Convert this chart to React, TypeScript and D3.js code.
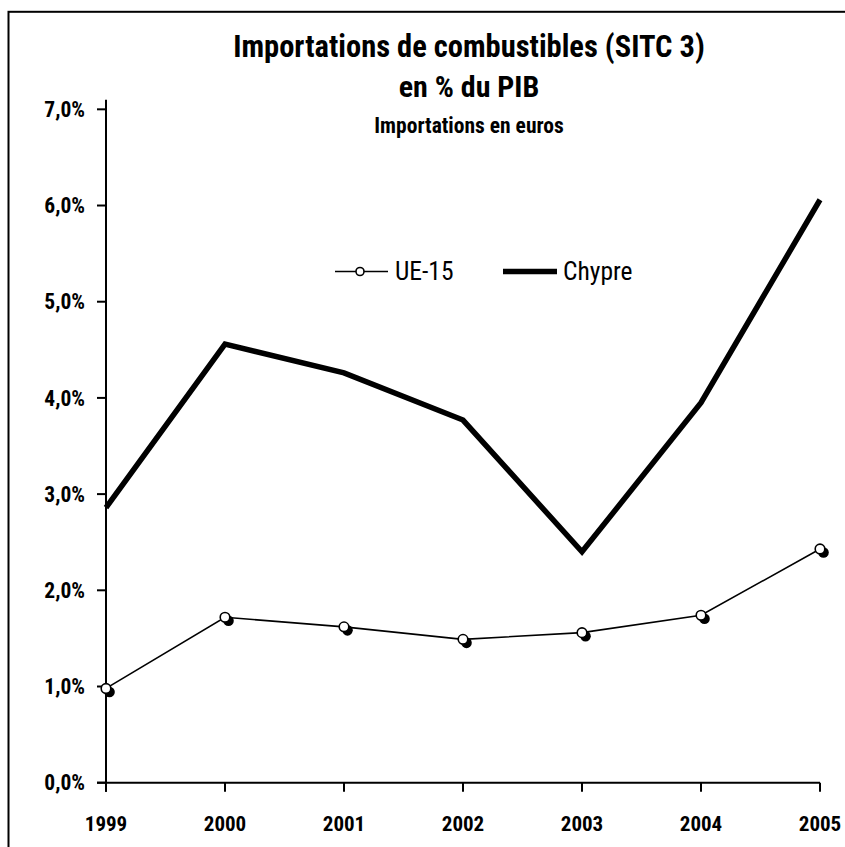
import React from "react";
import * as d3 from "d3";

const years = ["1999", "2000", "2001", "2002", "2003", "2004", "2005"];
const ue15 = [0.98, 1.72, 1.62, 1.49, 1.56, 1.74, 2.43];
const chypre = [2.86, 4.56, 4.26, 3.77, 2.4, 3.95, 6.06];
const yTicks = [0, 1, 2, 3, 4, 5, 6, 7];
const titleLines = ["Importations de combustibles (SITC 3)", "en % du PIB"];
const subtitle = "Importations en euros";
const seriesNames = ["UE-15", "Chypre"];

const W = 845;
const H = 847;
const FONT = "'Liberation Sans Narrow', 'Arial Narrow', 'Roboto Condensed', 'Liberation Sans', Arial, sans-serif";

const fmt = (v: number) => v.toFixed(1).replace(".", ",") + "%";

export default function App() {
  const x = d3.scalePoint<string>().domain(years).range([106, 820]);
  const y = d3.scaleLinear().domain([0, 7.1]).range([782.7, 99.7]);
  const [y0, yTop] = y.range();

  const line = d3
    .line<number>()
    .x((_, i) => x(years[i]) as number)
    .y((d) => y(d));

  const cx = 469;

  return (
    <svg
      width={W}
      height={H}
      style={{ position: "absolute", left: 0, top: 0, background: "#fff" }}
      fontFamily={FONT}
    >
      <rect x={8.5} y={11.8} width={900} height={900} fill="none" stroke="#000" strokeWidth={2} />

      {/* titles */}
      <text x={cx} y={57} textAnchor="middle" fontSize={30.5} fontWeight="bold">
        {titleLines[0]}
      </text>
      <text x={cx} y={97} textAnchor="middle" fontSize={30} fontWeight="bold">
        {titleLines[1]}
      </text>
      <text x={cx} y={133} textAnchor="middle" fontSize={21.5} fontWeight="bold">
        {subtitle}
      </text>

      {/* y axis */}
      <line x1={x(years[0])} x2={x(years[0])} y1={yTop} y2={y0 + 9} stroke="#000" strokeWidth={2} />
      {yTicks.map((t) => (
        <g key={t}>
          <line x1={97} x2={x(years[0])} y1={y(t)} y2={y(t)} stroke="#000" strokeWidth={2} />
          <text x={85} y={y(t)} dy="0.36em" textAnchor="end" fontSize={21.5} fontWeight="bold">
            {fmt(t)}
          </text>
        </g>
      ))}

      {/* x axis */}
      <line x1={97} x2={x(years[years.length - 1])} y1={y0} y2={y0} stroke="#000" strokeWidth={2} />
      {years.map((yr) => (
        <g key={yr}>
          <line x1={x(yr)} x2={x(yr)} y1={y0} y2={y0 + 9} stroke="#000" strokeWidth={2} />
          <text x={x(yr)} y={831} textAnchor="middle" fontSize={21} fontWeight="bold">
            {yr}
          </text>
        </g>
      ))}

      {/* Chypre */}
      <path d={line(chypre) || ""} fill="none" stroke="#000" strokeWidth={5.5} strokeLinejoin="miter" />

      {/* UE-15 */}
      <path d={line(ue15) || ""} fill="none" stroke="#000" strokeWidth={1.6} />
      {ue15.map((v, i) => (
        <circle key={"s" + i} cx={(x(years[i]) as number) + 3.5} cy={y(v) + 3.5} r={5.3} fill="#000" />
      ))}
      {ue15.map((v, i) => (
        <circle key={"c" + i} cx={x(years[i])} cy={y(v)} r={4.8} fill="#fff" stroke="#000" strokeWidth={1.6} />
      ))}

      {/* legend */}
      <line x1={335} x2={388} y1={271.5} y2={271.5} stroke="#000" strokeWidth={1.6} />
      <circle cx={360} cy={271.5} r={4} fill="#fff" stroke="#000" strokeWidth={1.6} />
      <text x={395} y={280} fontSize={25.5}>
        {seriesNames[0]}
      </text>
      <line x1={503} x2={557} y1={271.5} y2={271.5} stroke="#000" strokeWidth={5.5} />
      <text x={563} y={280} fontSize={25.5}>
        {seriesNames[1]}
      </text>
    </svg>
  );
}
